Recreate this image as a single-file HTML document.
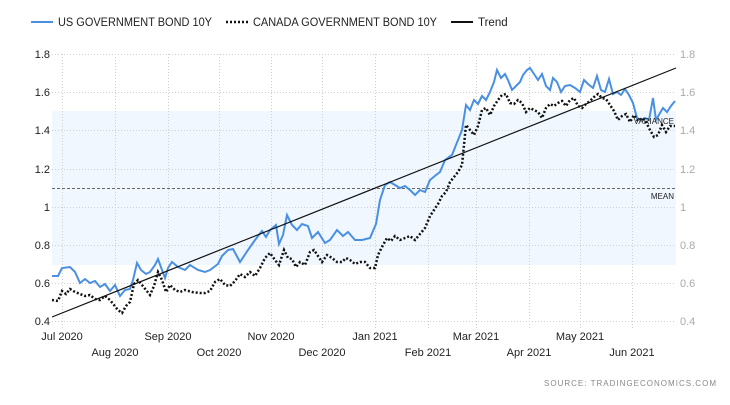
<!DOCTYPE html>
<html><head><meta charset="utf-8"><style>
body{margin:0;background:#fff;width:730px;height:400px;overflow:hidden;font-family:"Liberation Sans",sans-serif}
</style></head><body>
<svg width="730" height="400" xmlns="http://www.w3.org/2000/svg" font-family="Liberation Sans, sans-serif">
<rect x="52" y="111" width="624" height="154" fill="#f0f7fe"/>
<g stroke="#cfcfcf" stroke-dasharray="1,2" stroke-width="1">
<line x1="52" x2="676" y1="54.5" y2="54.5"/><line x1="52" x2="676" y1="92.5" y2="92.5"/><line x1="52" x2="676" y1="130.5" y2="130.5"/><line x1="52" x2="676" y1="169.5" y2="169.5"/><line x1="52" x2="676" y1="207.5" y2="207.5"/><line x1="52" x2="676" y1="245.5" y2="245.5"/><line x1="52" x2="676" y1="283.5" y2="283.5"/><line x1="52" x2="676" y1="321.5" y2="321.5"/>
<line x1="62.5" x2="62.5" y1="54" y2="328"/><line x1="115.5" x2="115.5" y1="54" y2="328"/><line x1="168.5" x2="168.5" y1="54" y2="328"/><line x1="219.5" x2="219.5" y1="54" y2="328"/><line x1="271.5" x2="271.5" y1="54" y2="328"/><line x1="322.5" x2="322.5" y1="54" y2="328"/><line x1="375.5" x2="375.5" y1="54" y2="328"/><line x1="428.5" x2="428.5" y1="54" y2="328"/><line x1="476.5" x2="476.5" y1="54" y2="328"/><line x1="529.5" x2="529.5" y1="54" y2="328"/><line x1="580.5" x2="580.5" y1="54" y2="328"/><line x1="632.5" x2="632.5" y1="54" y2="328"/>
</g>
<line x1="52" x2="676" y1="188.5" y2="188.5" stroke="#666" stroke-dasharray="3,2"/>
<g font-size="11" fill="#222" text-anchor="end">
<text x="50" y="58">1.8</text><text x="50" y="96">1.6</text><text x="50" y="134">1.4</text><text x="50" y="173">1.2</text><text x="50" y="211">1</text><text x="50" y="249">0.8</text><text x="50" y="287">0.6</text><text x="50" y="325">0.4</text>
</g>
<g font-size="11" fill="#aaa">
<text x="680" y="58">1.8</text><text x="680" y="96">1.6</text><text x="680" y="134">1.4</text><text x="680" y="173">1.2</text><text x="680" y="211">1</text><text x="680" y="249">0.8</text><text x="680" y="287">0.6</text><text x="680" y="325">0.4</text>
</g>
<g font-size="11" fill="#222" text-anchor="middle">
<text x="62" y="340">Jul 2020</text><text x="168" y="340">Sep 2020</text><text x="271" y="340">Nov 2020</text><text x="375" y="340">Jan 2021</text><text x="476" y="340">Mar 2021</text><text x="580" y="340">May 2021</text>
<text x="115" y="356">Aug 2020</text><text x="219" y="356">Oct 2020</text><text x="322" y="356">Dec 2020</text><text x="428" y="356">Feb 2021</text><text x="529" y="356">Apr 2021</text><text x="632" y="356">Jun 2021</text>
</g>
<polyline fill="none" stroke="#4a90e2" stroke-width="2" points="52,276 58,276 62,268 70,267 75,272 80,283 85,279 90,283 95,281 100,287 105,284 110,291 115,285 120,296 125,290 130,289 133,280 137,263 141,270 146,274 150,272 155,265 158,259 162,270 165,278 168,268 172,262 178,267 185,270 190,265 198,270 205,272 210,270 218,264 222,256 228,250 233,249 240,262 248,250 255,240 262,231 266,237 270,230 276,225 279,244 283,235 287,215 292,225 297,230 302,224 308,226 312,238 318,232 325,243 330,240 337,230 343,236 348,232 355,240 362,240 370,238 376,224 380,200 385,185 390,182 395,185 400,188 405,186 410,190 415,195 420,190 425,192 430,180 436,175 440,172 445,160 452,155 458,140 462,130 466,105 470,110 474,100 478,104 482,96 486,100 490,92 494,82 497,70 501,78 505,74 508,80 512,90 516,86 520,82 523,75 527,70 530,68 534,74 538,80 542,74 546,86 550,90 553,78 557,82 561,92 565,86 570,85 575,88 580,92 584,80 588,84 593,88 597,76 601,90 605,92 609,79 613,94 617,92 621,95 625,89 629,95 633,103 637,118 641,120 645,118 649,120 653,98 656,120 660,113 663,108 667,112 671,106 675,101"/>
<polyline fill="none" stroke="#111" stroke-width="2.5" stroke-dasharray="2,2" points="52,300 58,301 62,291 66,294 70,289 75,292 80,294 85,296 90,295 95,299 100,300 105,296 110,300 114,305 118,310 122,313 126,306 130,302 134,284 138,280 142,285 146,290 150,295 154,286 158,272 162,280 166,292 170,285 175,290 180,292 185,290 192,292 200,293 205,293 210,291 215,282 220,279 225,285 230,286 235,281 240,274 245,277 250,272 255,276 260,268 265,258 270,253 275,260 279,265 284,250 288,258 292,259 296,267 300,262 305,265 310,252 314,250 318,256 322,262 327,255 332,258 337,262 342,262 346,258 350,260 355,264 360,262 365,262 370,268 375,268 378,255 383,245 387,238 391,241 395,236 400,240 405,238 410,236 415,240 420,234 425,228 430,216 434,210 438,204 442,196 446,192 450,182 454,177 458,172 462,165 466,125 470,130 474,135 478,126 482,110 486,108 490,115 494,106 498,100 502,95 506,94 510,103 514,104 518,100 522,103 526,112 530,108 534,110 538,112 542,118 546,108 550,104 554,106 558,103 562,101 566,106 570,100 574,98 578,106 582,108 586,104 590,101 594,97 598,94 602,98 606,99 610,105 614,111 618,120 622,116 626,114 630,122 634,115 638,121 642,118 646,122 650,130 654,137 658,135 662,125 666,132 670,126 675,126"/>
<line x1="52" y1="317" x2="676" y2="68" stroke="#111" stroke-width="1.2"/>
<text x="674" y="124" font-size="8" fill="#222" text-anchor="end">VARIANCE</text>
<text x="674" y="199" font-size="8" fill="#222" text-anchor="end">MEAN</text>
<line x1="31" y1="22" x2="53" y2="22" stroke="#4a90e2" stroke-width="2"/>
<text x="58" y="26" font-size="11.5" fill="#222" textLength="154" lengthAdjust="spacingAndGlyphs">US GOVERNMENT BOND 10Y</text>
<line x1="226" y1="22" x2="248" y2="22" stroke="#111" stroke-width="2.5" stroke-dasharray="2,2"/>
<text x="253" y="26" font-size="11.5" fill="#222" textLength="184" lengthAdjust="spacingAndGlyphs">CANADA GOVERNMENT BOND 10Y</text>
<line x1="451" y1="22" x2="473" y2="22" stroke="#111" stroke-width="2"/>
<text x="478" y="26" font-size="11.5" fill="#222">Trend</text>
<text x="716" y="386" font-size="8" fill="#888" text-anchor="end" textLength="172" lengthAdjust="spacing">SOURCE:  TRADINGECONOMICS.COM</text>
</svg>
</body></html>
